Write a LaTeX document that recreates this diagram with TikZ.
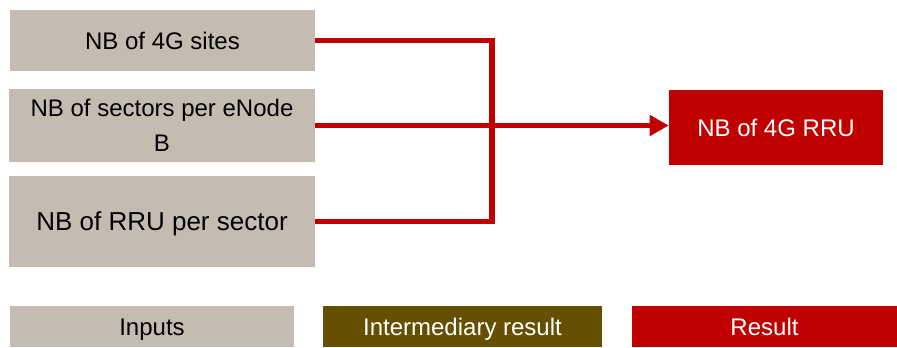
\documentclass[tikz,border=0pt]{standalone}
\usepackage{fontspec}
\setmainfont{Liberation Sans}
\usetikzlibrary{arrows.meta}
\definecolor{tan}{RGB}{197,188,177}
\definecolor{olive}{RGB}{100,80,0}
\definecolor{darkred}{RGB}{192,0,0}
\tikzset{
  input/.style={fill=tan, text=black, inner sep=0pt, align=center,
    font=\fontsize{18}{26.25}\selectfont},
  oneline/.style={text height=12.9pt, text depth=0pt},
  legend/.style={oneline, inner sep=0pt, minimum height=30.75pt,
    font=\fontsize{18}{22}\selectfont},
  link/.style={draw=darkred, line width=4.3pt, line join=miter}
}

\begin{document}
\begin{tikzpicture}[x=0.75pt,y=0.75pt]
\useasboundingbox (0,0) rectangle (897,347);
\node[input, oneline, minimum width=228.75pt, minimum height=45.75pt] (one) at (162.5,306.5) {NB of 4G sites};
\node[input, minimum width=229.5pt, minimum height=54.75pt] (two) at (162,221.5) {NB of sectors per eNode\\B};
\node[input, minimum width=229.5pt, minimum height=68.25pt, font=\fontsize{19.5}{24}\selectfont,
  text height=14pt, text depth=0pt] (three) at (162,125.5) {NB of RRU per sector};
\node[oneline, fill=darkred, text=white, inner sep=0pt, minimum width=160.5pt, minimum height=56.25pt,
  font=\fontsize{18}{22}\selectfont] (four) at (776,219.5) {NB of 4G RRU};
\coordinate (bus) at (492,0);
\draw[link] (one.east) -- (one.east -| bus) -- (three.east -| bus) -- (three.east);
\draw[link, -{Triangle[length=14.25pt, width=15pt]}] (two.east) -- (two.east -| four.west);
% legend
\node[legend, fill=tan, text=black, minimum width=213pt] (five) at (152,20.5) {Inputs};
\node[legend, fill=olive, text=white, minimum width=209.25pt] (six) at (462.5,20.5) {Intermediary result};
\node[legend, fill=darkred, text=white, minimum width=198.75pt] (seven) at (764.5,20.5) {Result};
\end{tikzpicture}
\end{document}
